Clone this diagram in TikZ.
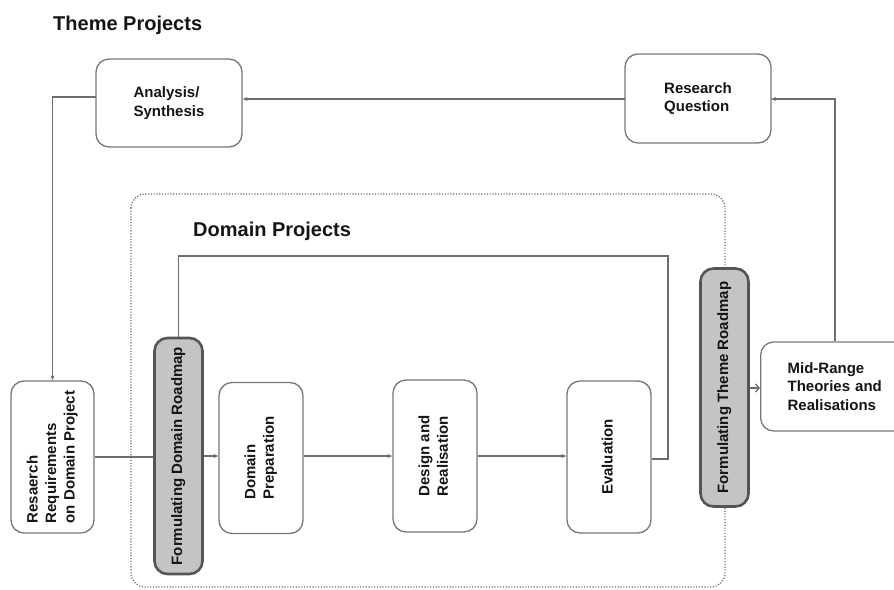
\documentclass[tikz,border=0pt]{standalone}
\usepackage{fontspec}
\usepackage{graphicx}
\setmainfont{Liberation Sans}
\usetikzlibrary{arrows.meta}
\definecolor{ln}{HTML}{6E6E6E}
\definecolor{bd}{HTML}{777777}
\definecolor{pillfill}{HTML}{C4C4C4}
\definecolor{pillbd}{HTML}{555555}
\definecolor{txt}{HTML}{151515}
\definecolor{dot}{HTML}{6A6A6A}
\newcommand{\vtext}[1]{\rotatebox{90}{\begin{tabular}{@{}l@{}}#1\end{tabular}}}
\begin{document}
\begin{tikzpicture}[x=1pt,y=-1pt,
  box/.style={draw=bd, line width=1.3pt, rounded corners=13pt, fill=white,
    font=\bfseries\fontsize{15}{18.5}\selectfont, text=txt, align=left, inner sep=0pt},
  pill/.style={draw=pillbd, line width=2.6pt, rounded corners=13pt, fill=pillfill,
    font=\bfseries\fontsize{15}{18}\selectfont, text=txt, inner sep=0pt},
  title/.style={font=\bfseries\fontsize{20}{24}\selectfont, text=txt, inner sep=0pt, anchor=base west},
  conn/.style={draw=ln, line width=1.3pt},
  arr/.style={conn, -{Stealth[length=5pt,width=4pt]}},
  bigarr/.style={conn, -{Straight Barb[length=3.5pt,width=8pt,line width=1.4pt]}}]
\useasboundingbox (0,0) rectangle (894,589);

% titles
\node[title] (tp) at (53,30.5) {Theme Projects};

% dotted domain region
\draw[dot, line width=1.3pt, dash pattern=on 1.1pt off 1.7pt, rounded corners=14pt]
  (131,194) rectangle (725,587);
\node[title] (dp) at (193,236) {Domain Projects};

% theme boxes
\node[box, minimum width=146pt, minimum height=88pt] (an) at (169,103) {Analysis/\\Synthesis};
\node[box, minimum width=146pt, minimum height=89pt] (rq) at (698,98.5) {Research\\Question};

% domain boxes
\node[box, minimum width=83pt, minimum height=152pt] (rr) at (52.5,457)
  {\vtext{Resaerch\\Requirements\\on Domain Project}};
\node[pill, minimum width=48pt, minimum height=236pt] (dpill) at (178.5,456)
  {\vtext{Formulating Domain Roadmap}};
\node[box, minimum width=84pt, minimum height=151pt] (dprep) at (261,458)
  {\vtext{Domain\\Preparation}};
\node[box, minimum width=84pt, minimum height=152pt] (des) at (435,456)
  {\vtext{Design and\\Realisation}};
\node[box, minimum width=84pt, minimum height=152pt] (ev) at (609,457)
  {\vtext{Evaluation}};
\node[pill, minimum width=48pt, minimum height=238pt] (tpill) at (724.5,387.5)
  {\vtext{Formulating Theme Roadmap}};
\node[box, minimum height=89pt, text width=110pt, inner xsep=27pt, anchor=west] (mid) at (760,386.5)
  {Mid-Range\\Theories and\\Realisations};

% connectors
\coordinate (rqin) at (771,99);
\coordinate (rqout) at (625,99);
\coordinate (anout) at (96,97);
\coordinate (top) at (668,256);
\draw[arr] (rqout) -- (rqout -| an.east);
\draw[arr] (anout) -| (rr.north);
\draw[conn] (rr.east) -- (rr.east -| dpill.west);
\draw[arr] (dpill.east |- 0,456) -- (dprep.west |- 0,456);
\draw[arr] (dprep.east |- 0,456) -- (des.west |- 0,456);
\draw[arr] (des.east |- 0,456) -- (ev.west |- 0,456);
\draw[conn] (ev.east |- 0,459) -| (top) -| (dpill.north);
\draw[bigarr] (tpill.east |- 0,388) -- (mid.west |- 0,388);
\draw[arr] (mid.north -| 835,0) |- (rqin);
\end{tikzpicture}
\end{document}
